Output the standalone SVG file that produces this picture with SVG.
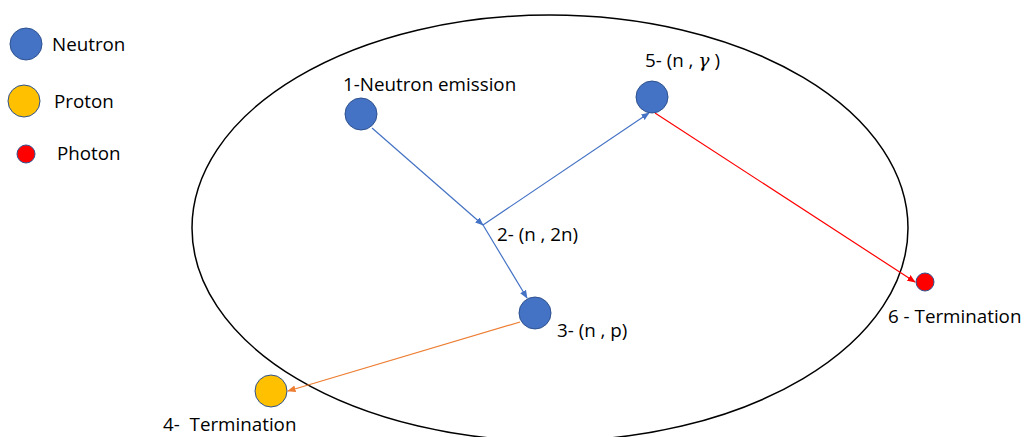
<svg xmlns="http://www.w3.org/2000/svg" width="1024" height="437" viewBox="0 0 1024 437">
<defs>
<style>
text{font-family:"Open Sans","Liberation Sans",sans-serif;font-size:18.8px;fill:#000}
.n{fill:#4472C4;stroke:#2F528F;stroke-width:1}
.p{fill:#FFC000;stroke:#2F528F;stroke-width:1}
.g{fill:#FF0000;stroke:#2F528F;stroke-width:1}
.b{stroke:#4472C4;stroke-width:1.2;fill:none}
.o{stroke:#ED7D31;stroke-width:1.2;fill:none}
.r{stroke:#FF0000;stroke-width:1.2;fill:none}
</style>
<marker id="ab" viewBox="0 0 10 10" refX="9" refY="5" markerWidth="7" markerHeight="7" orient="auto"><path d="M0,1 L10,5 L0,9 z" fill="#4472C4"/></marker>
<marker id="ao" viewBox="0 0 10 10" refX="9" refY="5" markerWidth="7" markerHeight="7" orient="auto"><path d="M0,1 L10,5 L0,9 z" fill="#ED7D31"/></marker>
<marker id="ar" viewBox="0 0 10 10" refX="9" refY="5" markerWidth="7" markerHeight="7" orient="auto"><path d="M0,1 L10,5 L0,9 z" fill="#FF0000"/></marker>
</defs>
<rect width="1024" height="437" fill="#fff"/>
<g id="legend">
<circle class="n" cx="26" cy="44" r="16"/><text x="52" y="51">Neutron</text>
<circle class="p" cx="24" cy="101" r="16"/><text x="54" y="108">Proton</text>
<circle class="g" cx="26" cy="154" r="9"/><text x="57" y="160">Photon</text>
</g>
<g id="boundary"><ellipse cx="550" cy="228" rx="358" ry="213" fill="none" stroke="#000" stroke-width="1.5"/></g>
<g id="connectors">
<line class="b" x1="372" y1="128" x2="483" y2="225" marker-end="url(#ab)"/>
<line class="b" x1="483" y1="225" x2="649" y2="113" marker-end="url(#ab)"/>
<line class="b" x1="483" y1="225" x2="527" y2="298" marker-end="url(#ab)"/>
<line class="o" x1="520" y1="322" x2="288" y2="391" marker-end="url(#ao)"/>
<line class="r" x1="655" y1="113" x2="915" y2="282" marker-end="url(#ar)"/>
</g>
<g id="node1"><circle class="n" cx="361" cy="114" r="16"/><text x="343" y="91">1-Neutron emission</text></g>
<g id="node2"><text x="497" y="241">2- (n , 2n)</text></g>
<g id="node3"><circle class="n" cx="535" cy="313" r="16"/><text x="557" y="337">3- (n , p)</text></g>
<g id="node4"><circle class="p" cx="271" cy="391" r="16"/><text x="163" y="431" xml:space="preserve">4-  Termination</text></g>
<g id="node5"><circle class="n" cx="652" cy="97" r="16"/><text x="645" y="67" xml:space="preserve">5- (n , <tspan font-family="'DejaVu Serif',serif" font-style="italic">γ</tspan> )</text></g>
<g id="node6"><circle class="g" cx="925" cy="282" r="9"/><text x="888" y="323">6 - Termination</text></g>
</svg>
